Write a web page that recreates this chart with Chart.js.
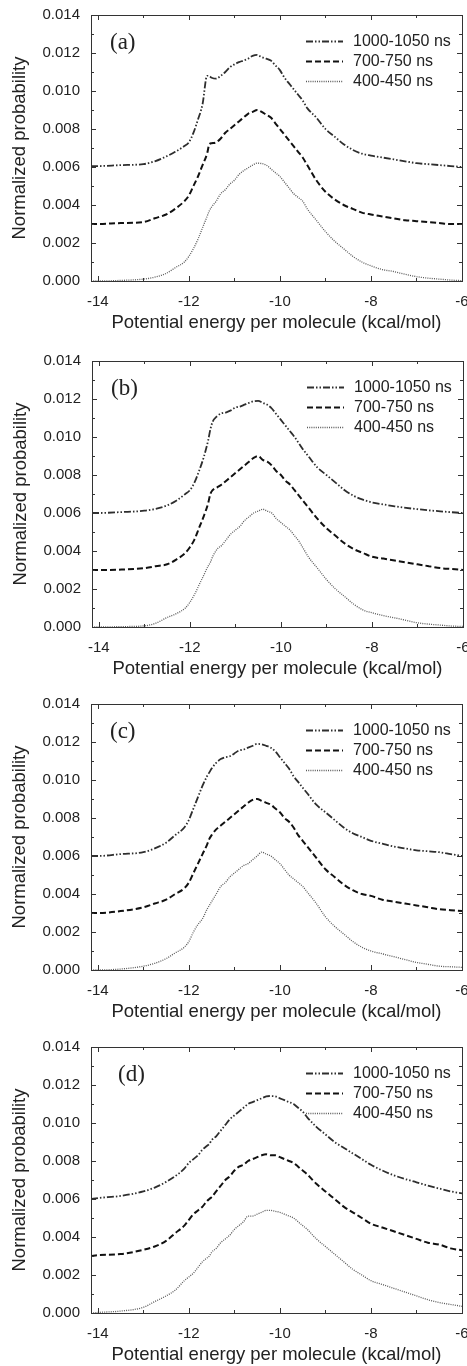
<!DOCTYPE html>
<html>
<head>
<meta charset="utf-8">
<script src="https://cdn.jsdelivr.net/npm/chart.js@4/dist/chart.umd.min.js"></script>
<style>
  body { margin: 0; width: 467px; height: 1366px; overflow: hidden; background: #fff; position: relative; }
  canvas { position: absolute; left: 0; }
</style>
</head>
<body>
<canvas id="chartA" width="467" height="340" style="top:0px"></canvas>
<canvas id="chartB" width="467" height="340" style="top:346px;left:1px"></canvas>
<canvas id="chartC" width="467" height="340" style="top:689px"></canvas>
<canvas id="chartD" width="467" height="340" style="top:1032px"></canvas>
<script>
// energy grid (kcal/mol), shared by all panels
const energy = [-14.15, -14, -13.5, -13, -12.75, -12.5, -12.3, -12.1, -12, -11.9, -11.8, -11.7, -11.6, -11.55, -11.5,
  -11.4, -11.3, -11.2, -11.1, -11, -10.9, -10.8, -10.7, -10.6, -10.5, -10.4, -10.3, -10.2, -10.1, -10,
  -9.9, -9.8, -9.7, -9.6, -9.5, -9.4, -9.2, -9, -8.8, -8.6, -8.4, -8.2, -8, -7.75, -7.5, -7.25, -7, -6.75, -6.5, -6.25, -6];

const seriesLabels = ["1000-1050 ns", "700-750 ns", "400-450 ns"];
const xTicks = [-14, -12, -10, -8, -6];
const xMinor = [-14, -13, -12, -11, -10, -9, -8, -7, -6];
const yTicks = [0, 0.002, 0.004, 0.006, 0.008, 0.010, 0.012, 0.014];
const yMinor = [0, 0.001, 0.002, 0.003, 0.004, 0.005, 0.006, 0.007, 0.008, 0.009, 0.010, 0.011, 0.012, 0.013, 0.014];

// (a)
const a1000 = [.00605, .00605, .0061, .00615, .0063, .00655, .0068, .0071, .0073, .0078, .0085, .0093, .0108, .01078, .0107,
  .01065, .0108, .011, .01125, .0114, .01152, .0116, .0117, .01185, .0119, .01178, .0117, .0116, .01135, .0111,
  .0107, .0104, .0101, .0098, .0095, .0091, .0086, .008, .0076, .0072, .0069, .0067, .0066, .0065, .0064, .0063, .0062, .00615, .0061, .00605, .006];
const a700 = [.003, .003, .00305, .0031, .0033, .0035, .0038, .0042, .0045, .005, .0055, .0061, .0067, .0072, .00725,
  .0073, .0075, .0078, .008, .0082, .0084, .0086, .0088, .0089, .009, .0089, .00875, .0086, .0083, .008,
  .0077, .0074, .0071, .0068, .0065, .0061, .0053, .0047, .0043, .004, .0038, .0036, .0035, .0034, .0033, .0032, .00315, .0031, .00305, .003, .003];
const a400 = [0, 0, .00003, .0001, .0002, .0004, .0007, .001, .0013, .0017, .0022, .0028, .0034, .0037, .0039,
  .0042, .0046, .0048, .0051, .0053, .0056, .0058, .00595, .0061, .0062, .00618, .0061, .0059, .0057, .0055,
  .0052, .0049, .0046, .0044, .0042, .0038, .0032, .0026, .0021, .0017, .0013, .001, .0008, .0006, .0005, .00035, .00023, .00015, .0001, .00005, .00002];

// (b)
const b1000 = [.006, .006, .00605, .00612, .00622, .0064, .00665, .007, .0072, .0076, .0082, .0089, .0098, .0104, .0108,
  .0111, .01125, .0113, .0114, .01155, .0116, .0117, .0118, .01188, .0119, .0118, .0117, .0115, .0112, .0109,
  .0106, .0103, .01, .00965, .0093, .009, .0084, .008, .0076, .0072, .0069, .0067, .00656, .00645, .00635, .00627, .0062, .00614, .00609, .00604, .006];
const b700 = [.003, .003, .00302, .0031, .0032, .0033, .00355, .0039, .0042, .0046, .0052, .0058, .0065, .007, .0072,
  .00735, .0075, .0077, .0079, .0081, .0083, .0085, .0087, .0089, .009, .0088, .0087, .0085, .0082, .008,
  .0077, .0075, .0072, .0069, .0066, .0063, .0057, .0052, .0048, .0044, .0041, .0039, .0037, .0036, .0035, .0034, .0033, .0032, .0031, .00305, .003];
const b400 = [0, 0, .00002, .00006, .0002, .0005, .0007, .001, .0013, .0017, .0022, .0027, .0032, .0034, .0037,
  .0041, .0043, .0046, .0049, .0051, .0053, .0056, .0058, .006, .0061, .0062, .0061, .006, .0057, .0055,
  .0053, .0051, .0048, .0045, .0041, .0037, .0031, .0025, .002, .0016, .0012, .0009, .00075, .0006, .00048, .00035, .00022, .00015, .0001, .00005, .00003];

// (c)
const c1000 = [.006, .006, .0061, .0062, .0064, .0067, .0071, .0075, .0079, .0085, .0091, .0097, .0102, .0104, .0106,
  .0109, .0111, .0112, .01125, .0114, .01155, .0116, .0117, .0118, .0119, .01188, .0118, .0117, .0115, .0112,
  .0109, .0106, .0102, .0099, .0096, .0093, .0087, .0083, .0079, .0075, .0072, .007, .0068, .00665, .0065, .0064, .0063, .00625, .0062, .0061, .006];
const c700 = [.003, .003, .0031, .0033, .0035, .0037, .004, .0043, .0046, .0051, .0056, .0061, .0066, .0069, .0071,
  .0074, .0076, .0078, .008, .0082, .0084, .0086, .0088, .00895, .009, .0089, .0088, .0087, .0085, .0083,
  .008, .0078, .0075, .0071, .0068, .0065, .0059, .0053, .0049, .0045, .0042, .004, .0039, .0037, .0036, .0035, .0034, .0033, .0032, .00315, .0031];
const c400 = [0, 0, .00005, .0002, .00035, .0006, .0009, .0012, .0015, .002, .0024, .0027, .0032, .0034, .0036,
  .004, .0044, .0046, .0049, .0051, .0053, .0055, .0056, .0058, .006, .0062, .0061, .006, .0058, .0056,
  .0053, .005, .0048, .0046, .0044, .0041, .0035, .0028, .0023, .0019, .0015, .0012, .001, .00085, .0007, .00055, .0004, .0003, .0002, .00017, .00014];

// (d)
const d1000 = [.006, .00605, .00616, .0064, .0066, .0069, .0072, .0076, .0079, .0081, .0083, .0086, .0088, .0089, .0091,
  .0093, .0096, .0099, .0102, .0104, .0106, .0108, .011, .0111, .0112, .0113, .0114, .01142, .0114, .0113,
  .0112, .0111, .011, .0108, .0106, .0103, .0098, .0094, .009, .0087, .0084, .0081, .0078, .0075, .00725, .00705, .00688, .0067, .00655, .0064, .0063];
const d700 = [.003, .00305, .0031, .00333, .0035, .0038, .0042, .0046, .0049, .0052, .0054, .0056, .0059, .006, .0061,
  .0064, .0067, .007, .0072, .0075, .0077, .0078, .008, .0081, .0082, .0083, .00835, .0083, .0083, .0082,
  .0081, .008, .0079, .0077, .0075, .0073, .0068, .0064, .006, .0056, .0053, .005, .0047, .0045, .0043, .0041, .0039, .0037, .0036, .0034, .0033];
const d400 = [0, .00003, .0001, .0003, .0006, .0009, .0012, .0017, .0019, .0021, .0024, .0027, .0029, .003, .0032,
  .0034, .0037, .0039, .0041, .0044, .0046, .0048, .0051, .0051, .0052, .0053, .0054, .0054, .00535, .0053,
  .0052, .0051, .005, .0048, .0046, .0044, .0039, .0035, .0031, .0027, .0023, .002, .0017, .0015, .0013, .0011, .0009, .0007, .00055, .00045, .00035];

Chart.defaults.font.family = '"Liberation Sans", Arial, sans-serif';
Chart.defaults.color = '#222';

function pairs(values) {
  return energy.map((x, i) => ({x: x, y: values[i]}));
}

function line(ctx, x1, y1, x2, y2) {
  ctx.beginPath();
  ctx.moveTo(x1, y1);
  ctx.lineTo(x2, y2);
  ctx.stroke();
}

// frame, inward ticks, panel tag and legend inside the plot
const boxPlugin = {
  id: 'box',
  afterDatasetsDraw(chart, args, opts) {
    const ctx = chart.ctx;
    const area = chart.chartArea;
    const sx = chart.scales.x;
    const sy = chart.scales.y;
    ctx.save();
    ctx.setLineDash([]);
    ctx.strokeStyle = '#333';
    ctx.lineWidth = 1;
    ctx.strokeRect(area.left + 0.5, area.top + 0.5, area.right - area.left, area.bottom - area.top);

    xMinor.forEach(v => {
      const px = Math.round(sx.getPixelForValue(v)) + 0.5;
      const len = xTicks.includes(v) ? 5 : 3;
      line(ctx, px, area.bottom, px, area.bottom - len);
      line(ctx, px, area.top, px, area.top + len);
    });
    yMinor.forEach((v, i) => {
      const py = Math.round(sy.getPixelForValue(v)) + 0.5;
      const len = i % 2 === 0 ? 5 : 3;
      line(ctx, area.left, py, area.left + len, py);
      line(ctx, area.right, py, area.right - len, py);
    });

    ctx.fillStyle = '#222';
    ctx.font = '23px "Liberation Serif", "Times New Roman", serif';
    ctx.textBaseline = 'middle';
    ctx.textAlign = 'left';
    ctx.fillText(opts.tag, area.left + opts.tagX, area.top + 28);

    ctx.font = '16px "Liberation Sans", Arial, sans-serif';
    chart.data.datasets.forEach((ds, i) => {
      const y = Math.round(area.top + 26 + i * 20) + 0.5;
      ctx.strokeStyle = ds.borderColor;
      ctx.lineWidth = ds.borderWidth;
      ctx.setLineDash(ds.borderDash);
      line(ctx, area.right - 156, y, area.right - 119, y);
      ctx.fillText(ds.label, area.right - 109, y);
    });
    ctx.restore();
  }
};

function makeChart(id, tag, tagX, s1000, s700, s400) {
  return new Chart(document.getElementById(id), {
    type: 'line',
    data: {
      datasets: [{
        label: seriesLabels[0],
        data: pairs(s1000),
        borderColor: '#2e2e2e',
        borderWidth: 1.8,
        borderDash: [7, 2, 1.5, 2, 1.5, 2]
      }, {
        label: seriesLabels[1],
        data: pairs(s700),
        borderColor: '#111',
        borderWidth: 2,
        borderDash: [6, 3]
      }, {
        label: seriesLabels[2],
        data: pairs(s400),
        borderColor: '#5a5a5a',
        borderWidth: 1.3,
        borderDash: [1, 1.2]
      }]
    },
    options: {
      responsive: false,
      animation: false,
      layout: {padding: {top: 15, right: 5, left: 0, bottom: 0}},
      elements: {
        point: {radius: 0},
        line: {cubicInterpolationMode: 'monotone', fill: false}
      },
      plugins: {
        legend: {display: false},
        tooltip: {enabled: false},
        box: {tag: tag, tagX: tagX}
      },
      scales: {
        x: {
          type: 'linear',
          min: -14.15,
          max: -6,
          afterBuildTicks: s => { s.ticks = xTicks.map(v => ({value: v})); },
          afterFit: s => { s.height = 59; s.paddingLeft = 0; s.paddingRight = 0; },
          grid: {display: false, drawTicks: false},
          border: {display: false},
          ticks: {padding: 12, maxRotation: 0, autoSkip: false, font: {size: 15}, callback: v => String(v)},
          title: {display: true, text: 'Potential energy per molecule (kcal/mol)', font: {size: 18.5}, padding: {top: 0, bottom: 6}}
        },
        y: {
          min: 0,
          max: 0.014,
          afterBuildTicks: s => { s.ticks = yTicks.map(v => ({value: v})); },
          afterFit: s => { s.width = 91; s.paddingTop = 0; s.paddingBottom = 0; },
          grid: {display: false, drawTicks: false},
          border: {display: false},
          ticks: {padding: 11, font: {size: 15}, callback: v => v.toFixed(3)},
          title: {display: true, text: 'Normalized probability', font: {size: 18.5}, padding: {top: 9, bottom: 0}}
        }
      }
    },
    plugins: [boxPlugin]
  });
}

makeChart('chartA', '(a)', 19, a1000, a700, a400);
makeChart('chartB', '(b)', 19, b1000, b700, b400);
makeChart('chartC', '(c)', 19, c1000, c700, c400);
makeChart('chartD', '(d)', 27, d1000, d700, d400);
</script>
</body>
</html>
